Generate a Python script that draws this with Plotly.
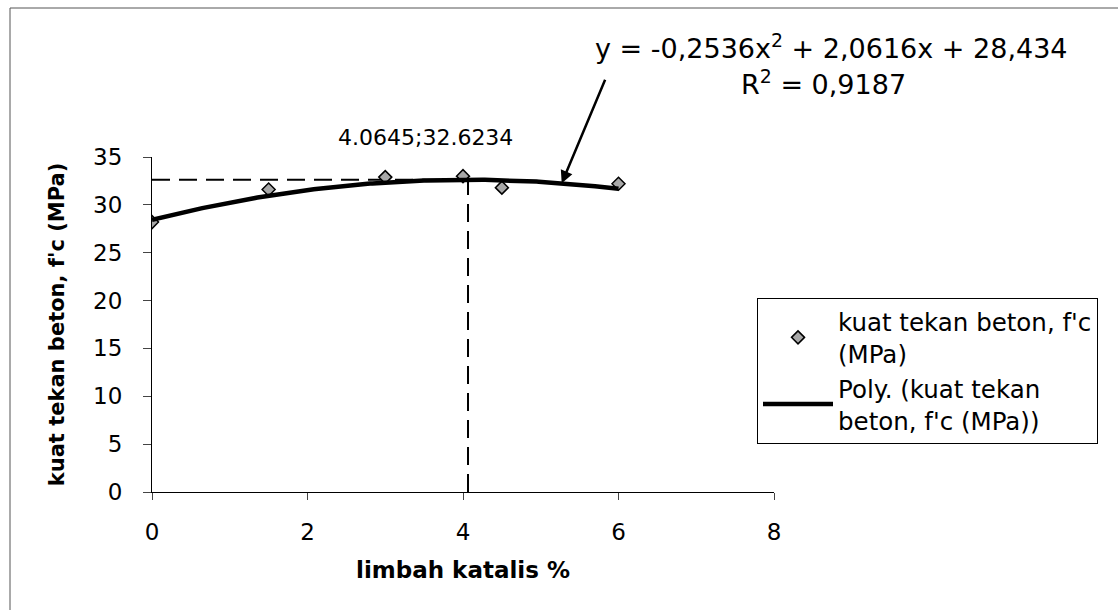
import numpy as np
import plotly.graph_objects as go

# Measured compressive strength vs. catalyst waste content
limbah_katalis = [0, 1.5, 3, 4, 4.5, 6]
kuat_tekan = [28.2, 31.6, 32.9, 33.0, 31.8, 32.2]

# Second-order polynomial trendline coefficients (a*x^2 + b*x + c)
poly_coef = [-0.2536, 2.0616, 28.434]
r_squared = 0.9187

# Optimum point of the fitted curve
x_opt = 4.0645
y_opt = 32.6234

FONT = "DejaVu Sans, Arial, sans-serif"

# plot-area geometry in pixels (used to place paper-referenced items)
PX_L, PX_R, PX_T, PX_B = 152, 774, 157, 492
PW, PH = PX_R - PX_L, PX_B - PX_T


def px(xp):
    return (xp - PX_L) / PW


def py(yp):
    return (PX_B - yp) / PH


x_fit = np.linspace(min(limbah_katalis), max(limbah_katalis), 200)
y_fit = np.polyval(poly_coef, x_fit)

fig = go.Figure()

# dashed guide lines to the optimum
guide = dict(color="black", width=2, dash="18px,9px")
fig.add_trace(go.Scatter(
    x=[0, x_opt], y=[y_opt, y_opt], mode="lines", line=guide,
    showlegend=False, hoverinfo="skip"))
fig.add_trace(go.Scatter(
    x=[x_opt, x_opt], y=[0, y_opt], mode="lines", line=guide,
    showlegend=False, hoverinfo="skip"))

fig.add_trace(go.Scatter(
    x=limbah_katalis, y=kuat_tekan, mode="markers",
    name="kuat tekan beton, f'c<br>(MPa)",
    marker=dict(symbol="diamond", size=10, color="#a8a8a8",
                line=dict(color="black", width=1.5))))

fig.add_trace(go.Scatter(
    x=x_fit, y=y_fit, mode="lines",
    name="Poly. (kuat tekan<br>beton, f'c (MPa))",
    line=dict(color="black", width=4.5)))


def fmt(v, nd):
    return f"{abs(v):.{nd}f}".replace(".", ",")


eq_line = (f"y = -{fmt(poly_coef[0], 4)}x<sup>2</sup> + {fmt(poly_coef[1], 4)}x"
           f" + {fmt(poly_coef[2], 3)}")
r2_line = f"R<sup>2</sup> = {fmt(r_squared, 4)}"

tip_x = 5.27
annotations = [
    dict(x=px(831), y=py(46), xref="paper", yref="paper",
         text=eq_line, showarrow=False, font=dict(size=27, family=FONT, color="black"),
         xanchor="center", yanchor="middle"),
    dict(x=px(823), y=py(82), xref="paper", yref="paper",
         text=r2_line, showarrow=False, font=dict(size=27, family=FONT, color="black"),
         xanchor="center", yanchor="middle"),
    # leader arrow from the equation toward the trendline
    dict(x=tip_x, y=float(np.polyval(poly_coef, tip_x)), xref="x", yref="y",
         text="", showarrow=True, arrowhead=2, arrowsize=1, arrowwidth=2.5,
         arrowcolor="black", ax=44, ay=-105),
    dict(x=3.52, y=py(137), xref="x", yref="paper",
         text=f"{x_opt};{y_opt}", showarrow=False,
         font=dict(size=22, family=FONT, color="black"),
         xanchor="center", yanchor="middle"),
]

fig.update_layout(
    width=1118, height=610,
    margin=dict(l=PX_L, r=1118 - PX_R, t=PX_T, b=610 - PX_B),
    paper_bgcolor="white", plot_bgcolor="white",
    font=dict(family=FONT, size=22, color="black"),
    annotations=annotations,
    legend=dict(x=px(757), y=py(298),
                xanchor="left", yanchor="top",
                bordercolor="black", borderwidth=1,
                font=dict(size=24.5, family=FONT), tracegroupgap=0,
                itemwidth=70),
    shapes=[
        dict(type="line", xref="paper", yref="paper",
             x0=px(10), x1=px(1118), y0=py(8), y1=py(8),
             line=dict(color="#555555", width=1)),
        dict(type="line", xref="paper", yref="paper",
             x0=px(10), x1=px(10), y0=py(8), y1=py(610),
             line=dict(color="#555555", width=1)),
    ],
)

fig.update_xaxes(
    range=[0, 8], tickvals=[0, 2, 4, 6, 8], ticks="outside", ticklen=7,
    showline=True, linecolor="black", linewidth=1, showgrid=False, zeroline=False,
    tickfont=dict(size=23, family=FONT), ticklabelstandoff=12,
    title=dict(text="<b>limbah katalis %</b>", font=dict(size=23, family=FONT), standoff=18))

fig.update_yaxes(
    range=[0, 35], tickvals=[0, 5, 10, 15, 20, 25, 30, 35], ticks="outside", ticklen=8,
    showline=True, linecolor="black", linewidth=1, showgrid=False, zeroline=False,
    tickfont=dict(size=23, family=FONT), ticklabelstandoff=16,
    title=dict(text="<b>kuat tekan beton, f'c (MPa)</b>", font=dict(size=21, family=FONT), standoff=22))

fig.write_html("out.html")
